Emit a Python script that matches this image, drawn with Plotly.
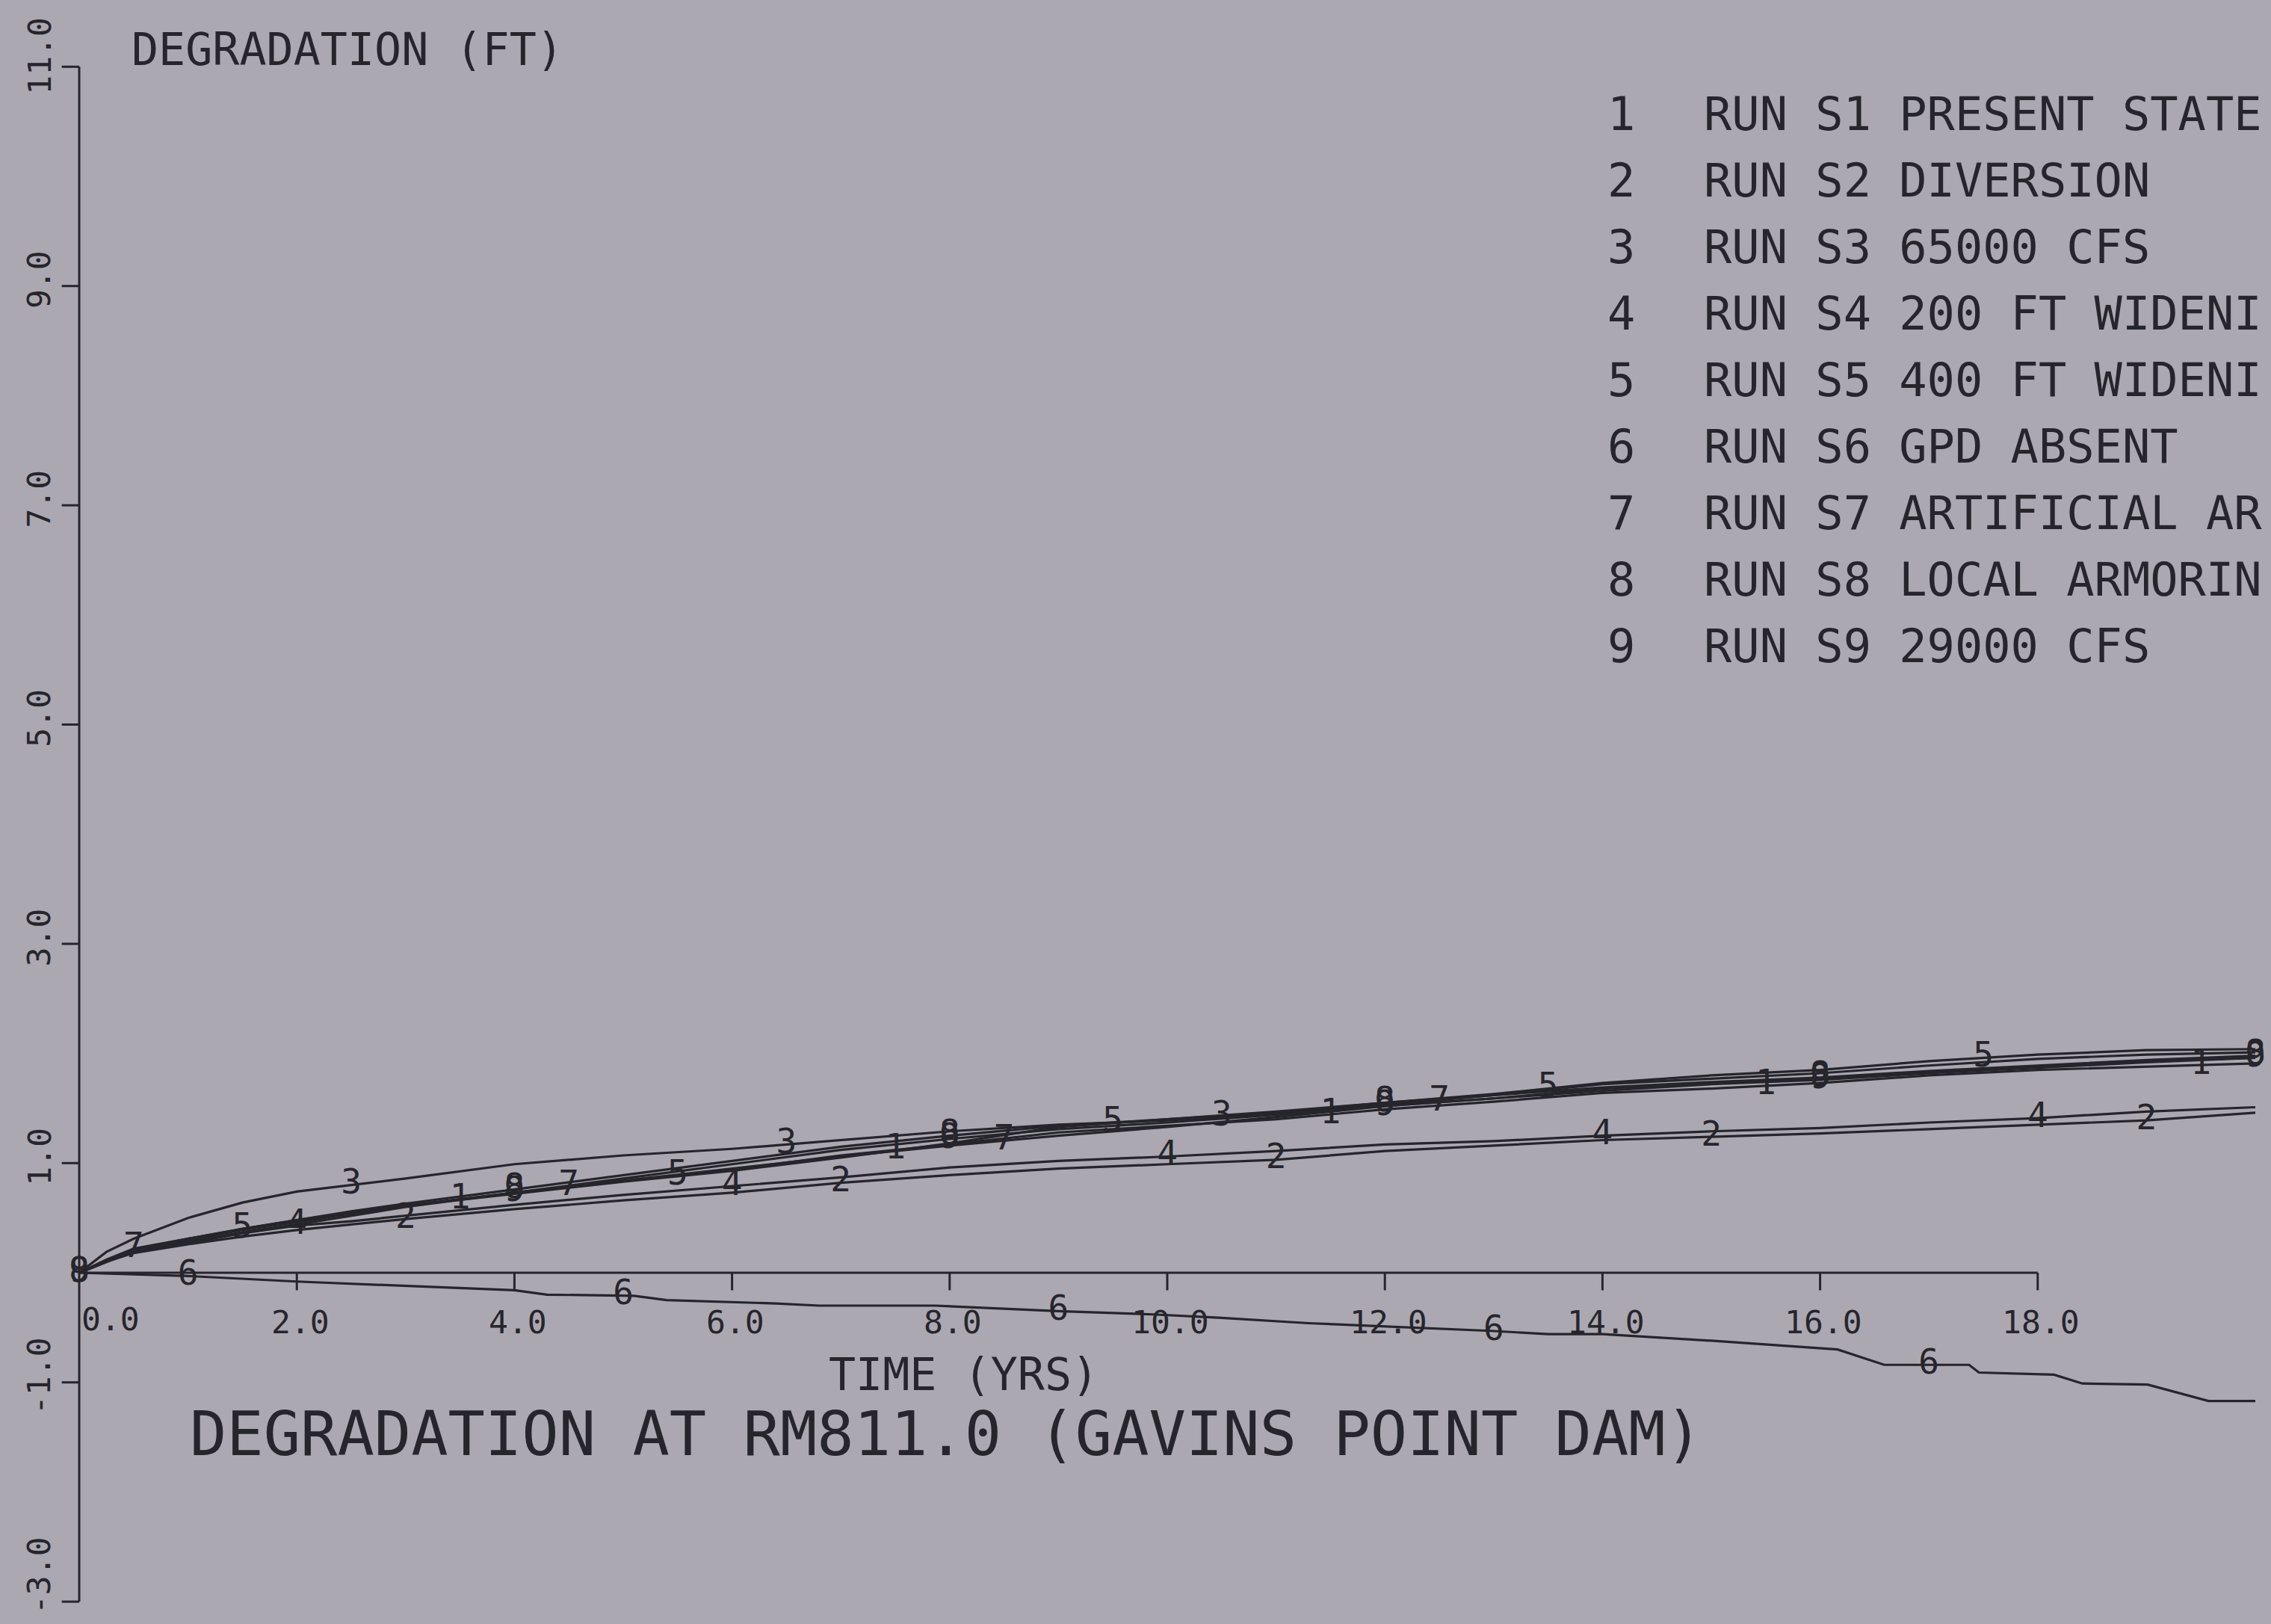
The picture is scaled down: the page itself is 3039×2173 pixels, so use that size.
import numpy as np
import plotly.graph_objects as go

time_grid = [0, 0.25, 0.5, 1, 1.5, 2, 2.5, 3, 4, 5, 6, 7, 8, 9, 10, 11, 12, 13, 14, 15, 16, 17, 18, 19, 20]

run_s1 = [0, 0.10, 0.20, 0.28, 0.37, 0.44, 0.52, 0.60, 0.73, 0.84, 0.94, 1.07, 1.17, 1.28, 1.34, 1.40, 1.49, 1.56, 1.64, 1.68, 1.73, 1.80, 1.85, 1.88, 1.91]
run_s2 = [0, 0.10, 0.18, 0.26, 0.33, 0.39, 0.44, 0.49, 0.58, 0.66, 0.73, 0.82, 0.89, 0.95, 0.99, 1.03, 1.11, 1.16, 1.21, 1.24, 1.27, 1.31, 1.35, 1.39, 1.46]
run_s3 = [0, 0.19, 0.31, 0.50, 0.64, 0.74, 0.80, 0.86, 0.99, 1.07, 1.13, 1.21, 1.29, 1.35, 1.39, 1.45, 1.53, 1.62, 1.72, 1.77, 1.82, 1.89, 1.95, 1.99, 2.01]
run_s4 = [0, 0.10, 0.19, 0.27, 0.36, 0.43, 0.47, 0.52, 0.62, 0.71, 0.79, 0.87, 0.96, 1.02, 1.06, 1.11, 1.17, 1.20, 1.25, 1.29, 1.32, 1.37, 1.41, 1.47, 1.51]
run_s5 = [0, 0.10, 0.20, 0.29, 0.40, 0.47, 0.54, 0.61, 0.72, 0.83, 0.93, 1.05, 1.18, 1.33, 1.40, 1.46, 1.55, 1.63, 1.73, 1.80, 1.85, 1.93, 1.99, 2.03, 2.04]
run_s7 = [0, 0.12, 0.22, 0.31, 0.40, 0.48, 0.55, 0.61, 0.73, 0.84, 0.95, 1.06, 1.16, 1.25, 1.33, 1.42, 1.52, 1.59, 1.68, 1.73, 1.77, 1.83, 1.88, 1.93, 1.96]
run_s8 = [0, 0.10, 0.21, 0.31, 0.40, 0.48, 0.56, 0.63, 0.76, 0.89, 1.02, 1.15, 1.25, 1.34, 1.40, 1.47, 1.55, 1.62, 1.69, 1.74, 1.78, 1.84, 1.89, 1.94, 1.98]
run_s9 = [0, 0.10, 0.20, 0.30, 0.39, 0.46, 0.54, 0.61, 0.73, 0.86, 0.99, 1.12, 1.22, 1.31, 1.37, 1.44, 1.52, 1.59, 1.66, 1.72, 1.76, 1.82, 1.87, 1.92, 1.96]

time_s6 = [0, 1.0, 2.0, 3.0, 4.0, 4.3, 5.1, 5.4, 6.4, 6.8, 7.87, 9.0, 9.87, 10.47, 11.3, 12.97, 13.5, 14.0, 15.0,
           16.16, 16.59, 17.37, 17.46, 18.15, 18.41, 19.01, 19.57, 20.0]
run_s6 = [0, -0.03, -0.08, -0.12, -0.16, -0.20, -0.21, -0.25, -0.28, -0.30, -0.30, -0.35, -0.38, -0.41, -0.46, -0.53, -0.56, -0.56, -0.62,
          -0.70, -0.84, -0.84, -0.91, -0.93, -1.01, -1.02, -1.17, -1.17]

# positions (years) where the plotter wrote each run number on its curve
marks_s1 = [3.5, 7.5, 11.5, 15.5, 19.5]
marks_s2 = [3.0, 7.0, 11.0, 15.0, 19.0]
marks_s3 = [2.5, 6.5, 10.5]
marks_s4 = [2.0, 6.0, 10.0, 14.0, 18.0]
marks_s5 = [1.5, 5.5, 9.5, 13.5, 17.5]
marks_s6 = [1.0, 5.0, 9.0, 13.0, 17.0]
marks_s7 = [0.5, 4.5, 8.5, 12.5]
marks_s8 = [0.0, 4.0, 8.0, 12.0, 16.0, 20.0]
marks_s9 = [0.0, 4.0, 8.0, 12.0, 16.0, 20.0]

legend_numbers = ["1", "2", "3", "4", "5", "6", "7", "8", "9"]
legend_texts = ["RUN S1 PRESENT STATE", "RUN S2 DIVERSION", "RUN S3 65000 CFS",
                "RUN S4 200 FT WIDENI", "RUN S5 400 FT WIDENI", "RUN S6 GPD ABSENT",
                "RUN S7 ARTIFICIAL AR", "RUN S8 LOCAL ARMORIN", "RUN S9 29000 CFS"]

x_ticks = [0, 2, 4, 6, 8, 10, 12, 14, 16, 18]
x_tick_labels = ["0.0", "2.0", "4.0", "6.0", "8.0", "10.0", "12.0", "14.0", "16.0", "18.0"]
y_ticks = [-3, -1, 1, 3, 5, 7, 9, 11]
y_tick_labels = ["-3.0", "-1.0", "1.0", "3.0", "5.0", "7.0", "9.0", "11.0"]

title_text = "DEGRADATION AT RM811.0 (GAVINS POINT DAM)"
x_title = "TIME (YRS)"
y_title = "DEGRADATION (FT)"

# ---------------- styling ----------------
BG = "#aba8b2"
INK = "#26252b"
FONT = "DejaVu Sans Mono"
W, H = 3039, 2173

series = [
    ("1", time_grid, run_s1, marks_s1),
    ("2", time_grid, run_s2, marks_s2),
    ("3", time_grid, run_s3, marks_s3),
    ("4", time_grid, run_s4, marks_s4),
    ("5", time_grid, run_s5, marks_s5),
    ("6", time_s6, run_s6, marks_s6),
    ("7", time_grid, run_s7, marks_s7),
    ("8", time_grid, run_s8, marks_s8),
    ("9", time_grid, run_s9, marks_s9),
]

fig = go.Figure()

for num, xs, ys, marks in series:
    fig.add_trace(go.Scatter(x=xs, y=ys, mode="lines",
                             line=dict(color=INK, width=3.2), hoverinfo="skip",
                             showlegend=False))

for num, xs, ys, marks in series:
    my = np.interp(marks, xs, ys)
    fig.add_trace(go.Scatter(x=marks, y=my, mode="text", text=[num] * len(marks),
                             textposition="middle center",
                             textfont=dict(family=FONT, size=46, color=INK),
                             hoverinfo="skip", showlegend=False))

shapes = []
# x axis line (drawn at zero, up to the last tick) and its downward ticks
shapes.append(dict(type="line", xref="x", yref="y", x0=x_ticks[0], x1=x_ticks[-1], y0=0, y1=0,
                   line=dict(color=INK, width=3)))
for t in x_ticks[1:]:
    shapes.append(dict(type="line", xref="x", yref="y", x0=t, x1=t, y0=0, y1=-0.16,
                       line=dict(color=INK, width=3)))
# y axis line and its leftward ticks
shapes.append(dict(type="line", xref="x", yref="y", x0=0, x1=0, y0=y_ticks[0], y1=y_ticks[-1],
                   line=dict(color=INK, width=3)))
for t in y_ticks:
    shapes.append(dict(type="line", xref="x", yref="y", x0=0, x1=-0.16, y0=t, y1=t,
                       line=dict(color=INK, width=3)))

ann = []
for t, lab in zip(x_ticks, x_tick_labels):
    if t == 0:
        ann.append(dict(x=t + 0.01, y=-0.42, text=lab, xanchor="left", yanchor="middle"))
    else:
        ann.append(dict(x=t + 0.03, y=-0.45, text=lab, xanchor="center", yanchor="middle"))
for t, lab in zip(y_ticks, y_tick_labels):
    shift = 0.06
    if t == y_ticks[0]:
        shift = 0.24
    elif t == y_ticks[-1]:
        shift = 0.1
    ann.append(dict(x=-0.37, y=t + shift, text=lab, textangle=-90, xanchor="center", yanchor="middle"))
for a in ann:
    a.update(xref="x", yref="y", showarrow=False, font=dict(family=FONT, size=43, color=INK))

ann.append(dict(x=0.47, y=11.16, text=y_title, xref="x", yref="y", showarrow=False,
                xanchor="left", yanchor="middle", font=dict(family=FONT, size=60, color=INK)))
ann.append(dict(x=8.13, y=-0.93, text=x_title, xref="x", yref="y", showarrow=False,
                xanchor="center", yanchor="middle", font=dict(family=FONT, size=60, color=INK)))
ann.append(dict(x=7.97, y=-1.47, text=title_text, xref="x", yref="y", showarrow=False,
                xanchor="center", yanchor="middle", font=dict(family=FONT, size=82, color=INK)))

row0 = 10.57
row_step = 0.607
for i, (n, txt) in enumerate(zip(legend_numbers, legend_texts)):
    yy = row0 - i * row_step
    ann.append(dict(x=14.17, y=yy, text=n, xref="x", yref="y", showarrow=False,
                    xanchor="center", yanchor="middle", font=dict(family=FONT, size=62, color=INK)))
    ann.append(dict(x=14.92, y=yy, text=txt, xref="x", yref="y", showarrow=False,
                    xanchor="left", yanchor="middle", font=dict(family=FONT, size=62, color=INK)))

px0, ppx = 106.0, 145.6   # pixel of x=0, pixels per year
py0, ppy = 1703.0, 146.7  # pixel of y=0, pixels per foot

fig.update_layout(
    width=W, height=H,
    margin=dict(l=0, r=0, t=0, b=0, pad=0),
    paper_bgcolor=BG, plot_bgcolor=BG,
    xaxis=dict(range=[-px0 / ppx, (W - px0) / ppx], visible=False, domain=[0, 1]),
    yaxis=dict(range=[(py0 - H) / ppy, py0 / ppy], visible=False, domain=[0, 1]),
    shapes=shapes, annotations=ann, showlegend=False,
)

fig.write_html("out.html", config={"displayModeBar": False})
